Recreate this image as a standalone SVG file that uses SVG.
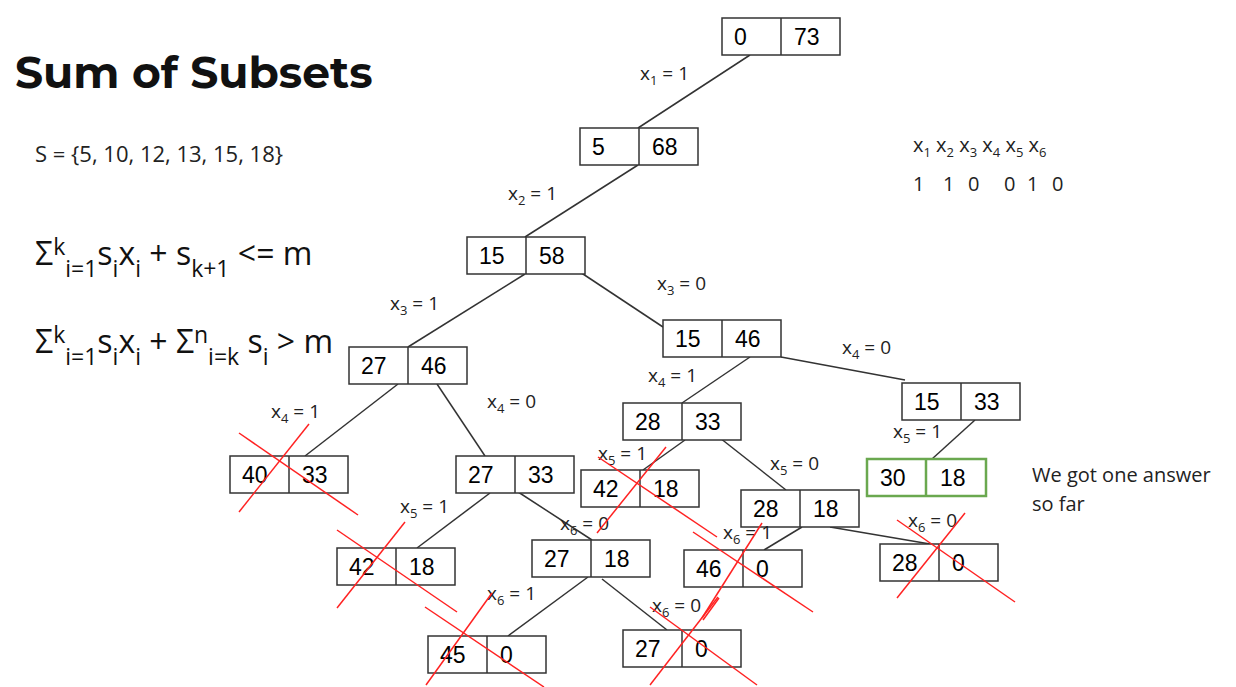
<svg xmlns="http://www.w3.org/2000/svg" width="1236" height="687" viewBox="0 0 1236 687">
<style>
.b{fill:#fff;stroke:#333;stroke-width:1.5}
.g{fill:#fff;stroke:#6aa84f;stroke-width:2.5}
.d{stroke:#333;stroke-width:1.5}
.t{font-family:"Liberation Sans",Arial,sans-serif;font-size:23px;fill:#000}
.l{font-family:"Open Sans","Liberation Sans",sans-serif;font-size:19px;fill:#222}
.f{font-family:"Open Sans","Liberation Sans",sans-serif;font-size:32px;fill:#111}
.f tspan.u{font-size:23px}
.s{font-size:13px}
.e line{stroke:#333;stroke-width:1.5}
.x line{stroke:#f22;stroke-width:1.5}
</style>
<rect width="1236" height="687" fill="#fff"/>
<text x="15" y="88" font-family="Montserrat,'Liberation Sans',sans-serif" font-weight="bold" style="font-size:44px" fill="#111">Sum of Subsets</text>
<text x="35" y="162" class="l" style="font-size:22px">S = {5, 10, 12, 13, 15, 18}</text>
<text x="35" y="265" class="f">Σ<tspan class="u" dy="-10">k</tspan><tspan class="u" dy="22">i=1</tspan><tspan dy="-12">s</tspan><tspan class="u" dy="12">i</tspan><tspan dy="-12">x</tspan><tspan class="u" dy="12">i</tspan><tspan dy="-12"> + s</tspan><tspan class="u" dy="12">k+1</tspan><tspan dy="-12"> &lt;= m</tspan></text>
<text x="35" y="353" class="f">Σ<tspan class="u" dy="-10">k</tspan><tspan class="u" dy="22">i=1</tspan><tspan dy="-12">s</tspan><tspan class="u" dy="12">i</tspan><tspan dy="-12">x</tspan><tspan class="u" dy="12">i</tspan><tspan dy="-12"> + Σ</tspan><tspan class="u" dy="-10">n</tspan><tspan class="u" dy="22">i=k</tspan><tspan dy="-12"> s</tspan><tspan class="u" dy="12">i</tspan><tspan dy="-12"> &gt; m</tspan></text>
<text x="913" y="152" class="l" style="font-size:20px">x<tspan class="s" dy="5">1</tspan><tspan dy="-5"> x</tspan><tspan class="s" dy="5">2</tspan><tspan dy="-5"> x</tspan><tspan class="s" dy="5">3</tspan><tspan dy="-5"> x</tspan><tspan class="s" dy="5">4</tspan><tspan dy="-5"> x</tspan><tspan class="s" dy="5">5</tspan><tspan dy="-5"> x</tspan><tspan class="s" dy="5">6</tspan></text>
<text y="191" class="l" style="font-size:20px"><tspan x="913">1</tspan><tspan x="943">1</tspan><tspan x="968">0</tspan><tspan x="1004">0</tspan><tspan x="1027">1</tspan><tspan x="1052">0</tspan></text>
<text x="1032" y="482" class="l" style="font-size:20px">We got one answer</text>
<text x="1032" y="511" class="l" style="font-size:20px">so far</text>
<g id="connectors" class="e">
<line x1="750" y1="55" x2="638" y2="128"/>
<line x1="638" y1="165" x2="525" y2="237"/>
<line x1="525" y1="274" x2="408" y2="347"/>
<line x1="580" y1="272" x2="663" y2="327"/>
<line x1="398" y1="384" x2="305" y2="456"/>
<line x1="437" y1="384" x2="485" y2="456"/>
<line x1="750" y1="357" x2="682" y2="403"/>
<line x1="781" y1="357" x2="905" y2="380"/>
<line x1="975" y1="420" x2="932" y2="459"/>
<line x1="685" y1="440" x2="643" y2="470"/>
<line x1="720" y1="438" x2="786" y2="490"/>
<line x1="490" y1="493" x2="417" y2="548"/>
<line x1="512" y1="488" x2="592" y2="540"/>
<line x1="802" y1="527" x2="764" y2="550"/>
<line x1="830" y1="527" x2="930" y2="544"/>
<line x1="588" y1="577" x2="508" y2="636"/>
<line x1="602" y1="579" x2="667" y2="630"/>
</g>
<g id="n0"><rect class="b" x="722" y="18" width="118" height="37"/><line class="d" x1="781" y1="18" x2="781" y2="55"/><text class="t" x="734" y="45">0</text><text class="t" x="794" y="45">73</text></g>
<g id="n1"><rect class="b" x="580" y="128" width="118" height="37"/><line class="d" x1="639" y1="128" x2="639" y2="165"/><text class="t" x="592" y="155">5</text><text class="t" x="652" y="155">68</text></g>
<g id="n2"><rect class="b" x="467" y="237" width="118" height="37"/><line class="d" x1="526" y1="237" x2="526" y2="274"/><text class="t" x="479" y="264">15</text><text class="t" x="539" y="264">58</text></g>
<g id="n3"><rect class="b" x="349" y="347" width="118" height="37"/><line class="d" x1="408" y1="347" x2="408" y2="384"/><text class="t" x="361" y="374">27</text><text class="t" x="421" y="374">46</text></g>
<g id="n4"><rect class="b" x="663" y="320" width="118" height="37"/><line class="d" x1="722" y1="320" x2="722" y2="357"/><text class="t" x="675" y="347">15</text><text class="t" x="735" y="347">46</text></g>
<g id="n5"><rect class="b" x="902" y="383" width="118" height="37"/><line class="d" x1="961" y1="383" x2="961" y2="420"/><text class="t" x="914" y="410">15</text><text class="t" x="974" y="410">33</text></g>
<g id="n6"><rect class="b" x="623" y="403" width="118" height="37"/><line class="d" x1="682" y1="403" x2="682" y2="440"/><text class="t" x="635" y="430">28</text><text class="t" x="695" y="430">33</text></g>
<g id="n7"><rect class="b" x="230" y="456" width="118" height="37"/><line class="d" x1="289" y1="456" x2="289" y2="493"/><text class="t" x="242" y="483">40</text><text class="t" x="302" y="483">33</text></g>
<g id="n8"><rect class="b" x="456" y="456" width="118" height="37"/><line class="d" x1="515" y1="456" x2="515" y2="493"/><text class="t" x="468" y="483">27</text><text class="t" x="528" y="483">33</text></g>
<g id="n9"><rect class="b" x="581" y="470" width="118" height="37"/><line class="d" x1="640" y1="470" x2="640" y2="507"/><text class="t" x="593" y="497">42</text><text class="t" x="653" y="497">18</text></g>
<g id="n10"><rect class="g" x="867" y="459" width="119" height="37"/><line stroke="#6aa84f" stroke-width="2.5" x1="926" y1="459" x2="926" y2="496"/><text class="t" x="880" y="486">30</text><text class="t" x="940" y="486">18</text></g>
<g id="n11"><rect class="b" x="741" y="490" width="118" height="37"/><line class="d" x1="800" y1="490" x2="800" y2="527"/><text class="t" x="753" y="517">28</text><text class="t" x="813" y="517">18</text></g>
<g id="n12"><rect class="b" x="337" y="548" width="118" height="37"/><line class="d" x1="396" y1="548" x2="396" y2="585"/><text class="t" x="349" y="575">42</text><text class="t" x="409" y="575">18</text></g>
<g id="n13"><rect class="b" x="532" y="540" width="118" height="37"/><line class="d" x1="591" y1="540" x2="591" y2="577"/><text class="t" x="544" y="567">27</text><text class="t" x="604" y="567">18</text></g>
<g id="n14"><rect class="b" x="684" y="550" width="118" height="37"/><line class="d" x1="743" y1="550" x2="743" y2="587"/><text class="t" x="696" y="577">46</text><text class="t" x="756" y="577">0</text></g>
<g id="n15"><rect class="b" x="880" y="544" width="118" height="37"/><line class="d" x1="939" y1="544" x2="939" y2="581"/><text class="t" x="892" y="571">28</text><text class="t" x="952" y="571">0</text></g>
<g id="n16"><rect class="b" x="428" y="636" width="118" height="37"/><line class="d" x1="487" y1="636" x2="487" y2="673"/><text class="t" x="440" y="663">45</text><text class="t" x="500" y="663">0</text></g>
<g id="n17"><rect class="b" x="623" y="630" width="118" height="37"/><line class="d" x1="682" y1="630" x2="682" y2="667"/><text class="t" x="635" y="657">27</text><text class="t" x="695" y="657">0</text></g>
<g id="labels" class="l">
<text x="640" y="80">x<tspan class="s" dy="5">1</tspan><tspan dy="-5"> = 1</tspan></text>
<text x="508" y="200">x<tspan class="s" dy="5">2</tspan><tspan dy="-5"> = 1</tspan></text>
<text x="657" y="290">x<tspan class="s" dy="5">3</tspan><tspan dy="-5"> = 0</tspan></text>
<text x="390" y="310">x<tspan class="s" dy="5">3</tspan><tspan dy="-5"> = 1</tspan></text>
<text x="842" y="354">x<tspan class="s" dy="5">4</tspan><tspan dy="-5"> = 0</tspan></text>
<text x="648" y="382">x<tspan class="s" dy="5">4</tspan><tspan dy="-5"> = 1</tspan></text>
<text x="271" y="418">x<tspan class="s" dy="5">4</tspan><tspan dy="-5"> = 1</tspan></text>
<text x="487" y="408">x<tspan class="s" dy="5">4</tspan><tspan dy="-5"> = 0</tspan></text>
<text x="893" y="438">x<tspan class="s" dy="5">5</tspan><tspan dy="-5"> = 1</tspan></text>
<text x="598" y="460">x<tspan class="s" dy="5">5</tspan><tspan dy="-5"> = 1</tspan></text>
<text x="770" y="470">x<tspan class="s" dy="5">5</tspan><tspan dy="-5"> = 0</tspan></text>
<text x="400" y="513">x<tspan class="s" dy="5">5</tspan><tspan dy="-5"> = 1</tspan></text>
<text x="560" y="530">x<tspan class="s" dy="5">6</tspan><tspan dy="-5"> = 0</tspan></text>
<text x="723" y="539">x<tspan class="s" dy="5">6</tspan><tspan dy="-5"> = 1</tspan></text>
<text x="908" y="527">x<tspan class="s" dy="5">6</tspan><tspan dy="-5"> = 0</tspan></text>
<text x="487" y="600">x<tspan class="s" dy="5">6</tspan><tspan dy="-5"> = 1</tspan></text>
<text x="652" y="612">x<tspan class="s" dy="5">6</tspan><tspan dy="-5"> = 0</tspan></text>
</g>
<g id="crosses" class="x">
<line x1="239" y1="512" x2="309" y2="424"/><line x1="239" y1="433" x2="358" y2="515"/>
<line x1="337" y1="608" x2="405" y2="522"/><line x1="337" y1="530" x2="457" y2="612"/>
<line x1="426" y1="685" x2="492" y2="593"/><line x1="425" y1="607" x2="544" y2="687"/>
<line x1="597" y1="533" x2="666" y2="447"/><line x1="598" y1="457" x2="717" y2="537"/>
<line x1="693" y1="532" x2="813" y2="612"/><line x1="702" y1="618" x2="762" y2="523"/><line x1="703" y1="620" x2="719" y2="598"/>
<line x1="897" y1="520" x2="1015" y2="602"/><line x1="897" y1="598" x2="965" y2="513"/>
<line x1="650" y1="607" x2="757" y2="685"/><line x1="650" y1="685" x2="718" y2="597"/>
</g>
</svg>
